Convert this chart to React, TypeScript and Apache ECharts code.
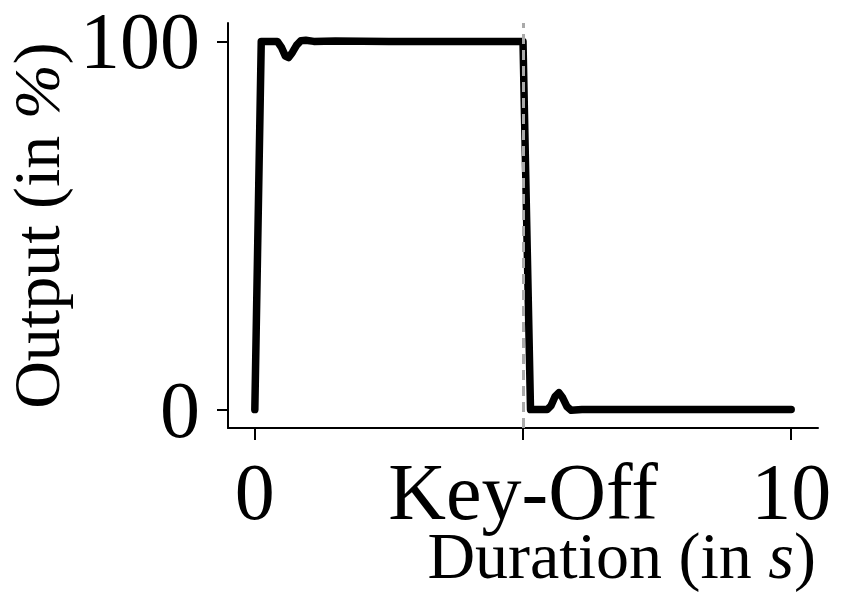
import React, { useEffect, useRef } from "react";
import * as echarts from "echarts";

const timeValues = [0, 0.12, 0.42, 0.5, 0.57, 0.63, 0.7, 0.78, 0.86, 0.95, 1.1, 1.5, 2.5, 5.0, 5.14, 5.45, 5.52, 5.6, 5.67, 5.74, 5.82, 5.9, 6.1, 7, 8.5, 10.0];
const outputValues = [0, 100, 100, 98.3, 96, 95.6, 97, 99, 100.2, 100.3, 100, 100.1, 100, 100, 0, 0, 1, 3.6, 4.6, 3.2, 0.8, -0.2, 0, 0, 0, 0];
const xTicks = [0, 5, 10];
const xTickLabels: Record<number, string> = { 0: "0", 5: "Key-Off", 10: "10" };
const yTicks = [0, 100];
const keyOff = 5;

const FONT = "Liberation Serif";

export default function App() {
  const ref = useRef<HTMLDivElement>(null);
  useEffect(() => {
    if (!ref.current) return;
    const chart = echarts.init(ref.current, null, { renderer: "svg" });
    const data = timeValues.map((t, i) => [t, outputValues[i]]);
    chart.setOption({
      animation: false,
      grid: { left: 220, right: 22, top: 15, bottom: 171, containLabel: false, outerBoundsMode: "none" },
      xAxis: {
        type: "value",
        min: -0.5,
        max: 10.5,
        splitLine: { show: false },
        axisLine: { onZero: false, lineStyle: { color: "#000", width: 2 } },
        axisTick: { show: true, customValues: xTicks, length: 12, lineStyle: { color: "#000", width: 2 } },
        axisLabel: {
          customValues: xTicks,
          hideOverlap: false,
          formatter: (v: number) => xTickLabels[v] ?? String(v),
          fontFamily: FONT,
          fontSize: 80,
          lineHeight: 64,
          color: "#000",
          margin: 32,
        },
      },
      yAxis: {
        type: "value",
        min: -5,
        max: 105,
        splitLine: { show: false },
        axisLine: { show: true, onZero: false, lineStyle: { color: "#000", width: 2 } },
        axisTick: { show: true, customValues: yTicks, length: 11, lineStyle: { color: "#000", width: 2 } },
        axisLabel: {
          customValues: yTicks,
          hideOverlap: false,
          fontFamily: FONT,
          fontSize: 80,
          color: "#000",
          margin: 28,
        },
        name: "{n|Output (in }{i|%}{n|)}",
        nameLocation: "middle",
        nameGap: 164,
        nameRotate: 90,
        nameTextStyle: {
          rich: {
            n: { fontFamily: FONT, fontSize: 66, lineHeight: 54, color: "#000" },
            i: { fontFamily: FONT, fontSize: 66, lineHeight: 54, fontStyle: "italic", color: "#000" },
          },
        },
      },
      graphic: [
        {
          type: "text",
          right: 24,
          top: 514,
          style: {
            text: "{n|Duration (in }{i|s}{n|)}",
            rich: {
              n: { fontFamily: FONT, fontSize: 66, lineHeight: 60, fill: "#000" },
              i: { fontFamily: FONT, fontSize: 66, lineHeight: 60, fontStyle: "italic", fill: "#000" },
            },
          },
        },
      ],
      series: [
        {
          type: "line",
          data: [],
          z: 1,
          silent: true,
          markLine: {
            silent: true,
            symbol: ["none", "none"],
            label: { show: false },
            lineStyle: { color: "#aaaaaa", width: 3, type: [10, 6] },
            data: [{ xAxis: keyOff }],
          },
        },
        {
          type: "line",
          data,
          z: 3,
          showSymbol: false,
          symbol: "none",
          lineStyle: { color: "#000", width: 7.5, join: "round", cap: "round" },
        },
      ],
    });
    return () => chart.dispose();
  }, []);
  return <div ref={ref} style={{ width: 832, height: 591 }} />;
}
